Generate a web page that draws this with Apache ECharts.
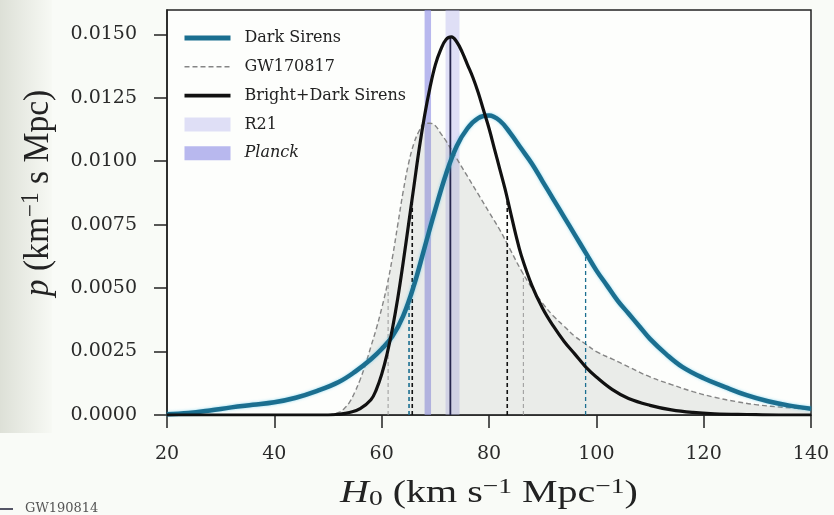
<!DOCTYPE html>
<html><head><meta charset="utf-8">
<script src="https://cdn.jsdelivr.net/npm/echarts/dist/echarts.min.js"></script>
<style>html,body{margin:0;padding:0;background:#f9fbf7}#c{width:834px;height:515px}</style>
</head><body><div id="c"></div>
<script>
// ---- data ----
const xTicks = [20, 40, 60, 80, 100, 120, 140];
const yTicks = [0, 0.0025, 0.005, 0.0075, 0.01, 0.0125, 0.015];

const darkX = [20,24,28,32,36,40,44,48,52,55,58,60,62,64,66,68,70,72,74,76,78,80,82,84,86,88,90,92,94,96,98,100,102,104,106,108,110,113,116,120,124,128,132,136,140];
const darkY = [0.00003,0.00008,0.00018,0.0003,0.0004,0.0005,0.00068,0.00095,0.0013,0.0017,0.0022,0.0026,0.0031,0.0039,0.0051,0.0066,0.0081,0.0095,0.0106,0.0113,0.0117,0.0118,0.0116,0.0111,0.0105,0.0099,0.0092,0.0085,0.0078,0.0071,0.0064,0.0057,0.0051,0.0045,0.0040,0.0035,0.0030,0.0024,0.0019,0.00145,0.0011,0.00078,0.00054,0.00037,0.00025];

const gwX = [50,51,52,53,54,55,56,57,58,59,60,61,62,63,64,65,66,67,68,69,70,71,72,74,76,78,80,82,84,86,88,90,92,94,96,98,100,103,106,110,114,118,122,126,130,135,140];
const gwY = [0,0.00004,0.0001,0.00025,0.0005,0.0009,0.0014,0.0020,0.0027,0.0034,0.0042,0.0051,0.0062,0.0075,0.0088,0.0099,0.0107,0.0112,0.0115,0.0115,0.0114,0.0111,0.0108,0.0101,0.0094,0.0087,0.0080,0.0073,0.0065,0.0057,0.0050,0.0044,0.0039,0.0035,0.0031,0.0028,0.0025,0.0022,0.0019,0.0015,0.0012,0.00092,0.0007,0.00053,0.0004,0.0003,0.00022];

const bdX = [20,50,52,54,56,58,59,60,61,62,63,64,65,66,67,68,69,70,71,72,73,74,75,76,77,78,79,80,81,82,83,84,85,86,88,90,92,94,96,98,100,103,106,110,114,118,122,128,134,140];
const bdY = [0,0,0.00003,0.0001,0.00025,0.0006,0.0010,0.0016,0.0024,0.0034,0.0046,0.0060,0.0075,0.0090,0.0105,0.0118,0.0129,0.0138,0.0144,0.0148,0.0149,0.0147,0.0143,0.0138,0.0133,0.0127,0.0120,0.0113,0.0105,0.0097,0.0089,0.0080,0.0071,0.0063,0.0051,0.0042,0.0035,0.0029,0.0024,0.0019,0.0015,0.0010,0.00065,0.00038,0.0002,0.0001,0.00005,0.00002,0,0];

const darkCI = [65.1, 98.0];
const gwCI = [61.2, 86.4];
const bdCI = [65.7, 83.4];
const bdPeak = 72.8;
const r21Band = [71.9, 74.5];
const planckBand = [68.0, 69.2];

const legendNames = ['Dark Sirens', 'GW170817', 'Bright+Dark Sirens', 'R21', 'Planck'];

// ---- helpers ----
function zip(xs, ys) { return xs.map((x, i) => [x, ys[i]]); }
function interp(xs, ys, x) {
  for (let i = 0; i < xs.length - 1; i++) {
    if (x >= xs[i] && x <= xs[i + 1]) {
      const t = (x - xs[i]) / (xs[i + 1] - xs[i]);
      return ys[i] + t * (ys[i + 1] - ys[i]);
    }
  }
  return 0;
}
function vline(x, xs, ys, color, width, type, z) {
  return {
    type: 'line', silent: true, symbol: 'none', z: z,
    data: [[x, 0], [x, interp(xs, ys, x)]],
    lineStyle: { color: color, width: width, type: type }
  };
}

const TEAL = '#1b6f90', BLACK = '#111111', GRAY = '#858585';
const R21C = 'rgba(180,180,238,0.42)', PLANCKC = 'rgba(150,150,232,0.68)';
const hide = { color: 'rgba(0,0,0,0)', borderWidth: 0, opacity: 0 };

const chart = echarts.init(document.getElementById('c'));
const serif = 'DejaVu Serif';
chart.setOption({
  backgroundColor: '#f9fbf7',
  animation: false,
  grid: { left: 167, right: 23, top: 10, bottom: 100, show: true, borderColor: '#222', borderWidth: 1.5, backgroundColor: '#fdfefc' },
  xAxis: {
    type: 'value', min: 20, max: 140, interval: 20,
    axisLine: { show: true, lineStyle: { color: '#222', width: 1.5 } },
    axisTick: { show: true, length: 13, lineStyle: { color: '#222', width: 1.5 }, customValues: xTicks },
    axisLabel: { customValues: xTicks, margin: 30, fontFamily: serif, fontSize: 19, color: '#2a2a2a' },
    splitLine: { show: false }
  },
  yAxis: {
    type: 'value', min: 0, max: 0.01596,
    axisLine: { show: true, lineStyle: { color: '#222', width: 1.5 } },
    axisTick: { show: true, length: 13, lineStyle: { color: '#222', width: 1.5 }, customValues: yTicks },
    axisLabel: { customValues: yTicks, margin: 30, fontFamily: serif, fontSize: 19, color: '#2a2a2a', formatter: v => v.toFixed(4) },
    splitLine: { show: false }
  },
  legend: {
    orient: 'vertical', left: 182, top: 30, padding: 0, itemGap: 12.8, itemWidth: 46, itemHeight: 14,
    textStyle: { fontFamily: serif, fontSize: 16, color: '#222', lineHeight: 16, padding: [0, 0, 0, 9] },
    data: [
      { name: legendNames[0], itemStyle: hide, lineStyle: { width: 5, color: TEAL } },
      { name: legendNames[1], itemStyle: hide, lineStyle: { width: 1.4, color: GRAY, type: [5, 3] } },
      { name: legendNames[2], itemStyle: hide, lineStyle: { width: 3.8, color: BLACK } },
      { name: legendNames[3], icon: 'rect', itemStyle: { color: R21C } },
      { name: legendNames[4], icon: 'rect', itemStyle: { color: PLANCKC }, textStyle: { fontStyle: 'italic' } }
    ]
  },
  graphic: [
    { type: 'rect', z: -10, silent: true, shape: { x: 0, y: 0, width: 52, height: 433 },
      style: { fill: new echarts.graphic.LinearGradient(0, 0, 1, 0, [{ offset: 0, color: '#dde0d7' }, { offset: 1, color: '#f7f9f4' }]) } },
    { type: 'line', silent: true, shape: { x1: 0, y1: 509, x2: 13, y2: 509 }, style: { stroke: '#556', lineWidth: 2 } },
    { type: 'text', silent: true, x: 25, y: 509, style: { text: 'GW190814', font: '13px "DejaVu Serif"', fill: '#555', verticalAlign: 'middle' } },
    { type: 'text', silent: true, x: 489, y: 493, scaleX: 1.25,
      style: {
        text: '{it|H}{sub|0}{n| (km s}{sup|−1}{n| Mpc}{sup|−1}{n|)}',
        align: 'center', verticalAlign: 'middle',
        rich: {
          it: { fontFamily: 'Liberation Serif', fontStyle: 'italic', fontSize: 32, lineHeight: 34, verticalAlign: 'bottom', fill: '#222' },
          n: { fontFamily: 'Liberation Serif', fontSize: 32, lineHeight: 34, verticalAlign: 'bottom', fill: '#222' },
          sub: { fontFamily: 'Liberation Serif', fontSize: 22, lineHeight: 18, verticalAlign: 'bottom', fill: '#222' },
          sup: { fontFamily: 'Liberation Serif', fontSize: 22, lineHeight: 12, verticalAlign: 'top', fill: '#222' }
        }
      } },
    { type: 'text', silent: true, x: 38, y: 193, rotation: Math.PI / 2, scaleY: 1.1, scaleX: 1.05,
      style: {
        text: '{it|p}{n| (km}{sup|−1}{n| s Mpc)}',
        align: 'center', verticalAlign: 'middle',
        rich: {
          it: { fontFamily: 'Liberation Serif', fontStyle: 'italic', fontSize: 32, lineHeight: 34, verticalAlign: 'bottom', fill: '#222' },
          n: { fontFamily: 'Liberation Serif', fontSize: 32, lineHeight: 34, verticalAlign: 'bottom', fill: '#222' },
          sup: { fontFamily: 'Liberation Serif', fontSize: 22, lineHeight: 12, verticalAlign: 'top', fill: '#222' }
        }
      } }
  ],
  series: [
    { name: 'GW170817', type: 'line', z: 1, symbol: 'none', smooth: 0.4,
      data: zip(gwX, gwY), itemStyle: { color: GRAY },
      lineStyle: { color: GRAY, width: 1.4, type: [5, 3] },
      areaStyle: { color: 'rgba(150,155,148,0.25)', origin: 'start' } },
    { name: 'R21', type: 'line', z: 2, data: [], itemStyle: { color: R21C },
      markArea: { silent: true, itemStyle: { color: R21C }, data: [[{ xAxis: r21Band[0] }, { xAxis: r21Band[1] }]] } },
    { name: 'Planck', type: 'line', z: 2, data: [], itemStyle: { color: PLANCKC },
      markArea: { silent: true, itemStyle: { color: PLANCKC }, data: [[{ xAxis: planckBand[0] }, { xAxis: planckBand[1] }]] } },
    vline(gwCI[0], gwX, gwY, '#999', 1, [4, 3], 3),
    vline(gwCI[1], gwX, gwY, '#999', 1, [4, 3], 3),
    vline(darkCI[0], darkX, darkY, TEAL, 1.6, [4, 3], 3),
    vline(darkCI[1], darkX, darkY, TEAL, 1.3, [4, 3], 3),
    vline(bdCI[0], bdX, bdY, BLACK, 1.6, [4, 3], 3),
    vline(bdCI[1], bdX, bdY, BLACK, 1.6, [4, 3], 3),
    vline(bdPeak, bdX, bdY, '#26264d', 1.8, 'solid', 3),
    { name: 'Dark Sirens', type: 'line', z: 4, symbol: 'none', smooth: 0.4,
      data: zip(darkX, darkY), itemStyle: { color: TEAL },
      lineStyle: { color: TEAL, width: 4.5, shadowColor: 'rgba(60,190,235,0.55)', shadowBlur: 3 } },
    { name: 'Bright+Dark Sirens', type: 'line', z: 5, symbol: 'none', smooth: 0.4,
      data: zip(bdX, bdY), itemStyle: { color: BLACK }, lineStyle: { color: BLACK, width: 3.2 } }
  ]
});
</script></body></html>
